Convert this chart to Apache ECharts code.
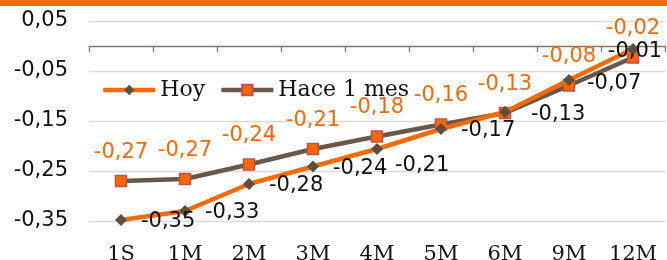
<!DOCTYPE html>
<html>
<head>
<meta charset="utf-8">
<script src="https://cdn.jsdelivr.net/npm/echarts@6/dist/echarts.min.js"></script>
<style>html,body{margin:0;padding:0;background:#fff;}#c{width:667px;height:260px;}</style>
</head>
<body>
<div id="c"></div>
<script>
const categories = ['1S','1M','2M','3M','4M','5M','6M','9M','12M'];
const hoy = [-0.348, -0.33, -0.276, -0.241, -0.206, -0.166, -0.132, -0.068, -0.006];
const haceUnMes = [-0.27, -0.266, -0.237, -0.206, -0.181, -0.157, -0.134, -0.079, -0.023];
const yTickValues = [-0.35, -0.25, -0.15, -0.05, 0.05];
const yTickLabels = ['-0,35', '-0,25', '-0,15', '-0,05', '0,05'];
const seriesNames = ['Hoy', 'Hace 1 mes'];

const ORANGE = '#F46A05';
const BROWN = '#675849';
const fmt = v => v.toFixed(2).replace('.', ',');

// label placement tweaks (style only)
const hoyLabelOffsets = {4: [-2, 17], 5: [0, 2], 6: [6, 3], 7: [-2, 4]};
const hoyData = hoy.map((v, i) => {
  const item = {value: v};
  if (i === 8) item.label = {position: 'inside', offset: [2, 3]};
  else if (hoyLabelOffsets[i]) item.label = {offset: hoyLabelOffsets[i]};
  return item;
});

const chart = echarts.init(document.getElementById('c'), null, {renderer: 'canvas'});
chart.setOption({
  animation: false,
  graphic: [{type: 'rect', shape: {x: 0, y: 0, width: 667, height: 6}, style: {fill: '#F46A00'}, silent: true}],
  grid: {left: 89, right: 2, top: 21, bottom: 39, containLabel: false, outerBoundsMode: 'none'},
  legend: {
    data: seriesNames, left: 101, top: 79, padding: 0, itemGap: 14,
    itemWidth: 52, itemHeight: 13,
    lineStyle: {width: 4.5},
    textStyle: {fontFamily: 'DejaVu Serif', fontSize: 22, color: '#111'}
  },
  xAxis: [
    {type: 'category', data: categories, position: 'top',
     axisLine: {show: true, onZero: true, lineStyle: {color: '#85786B', width: 1.3}},
     axisTick: {show: true, inside: true, length: 6, lineStyle: {color: '#85786B', width: 1.3}},
     axisLabel: {show: false}, splitLine: {show: false}},
    {type: 'category', data: categories, position: 'bottom',
     axisLine: {show: false, onZero: false}, axisTick: {show: false}, splitLine: {show: false},
     axisLabel: {fontFamily: 'DejaVu Serif', fontSize: 21, color: '#111', margin: 23}}
  ],
  yAxis: {
    type: 'value', min: -0.35, max: 0.05, interval: 0.05,
    axisLine: {show: false}, axisTick: {show: false},
    splitLine: {show: true, lineStyle: {color: ['#D9D9D9', 'rgba(0,0,0,0)'], width: 1.3}},
    axisLabel: {
      margin: 21, fontFamily: 'DejaVu Sans', fontSize: 21, color: '#111',
      formatter: v => { const k = yTickValues.findIndex(t => Math.abs(t - v) < 1e-9); return k >= 0 ? yTickLabels[k] : ''; }
    }
  },
  series: [
    {
      name: seriesNames[0], type: 'line', data: hoyData, z: 3,
      symbol: 'diamond', symbolSize: 12, showAllSymbol: true,
      lineStyle: {color: ORANGE, width: 4.5},
      itemStyle: {color: '#5C4E41'},
      label: {show: true, position: 'right', distance: 14, offset: [0, 2],
              fontFamily: 'DejaVu Sans', fontSize: 21, color: '#111',
              formatter: p => fmt(p.value)}
    },
    {
      name: seriesNames[1], type: 'line', data: haceUnMes, z: 2,
      symbol: 'rect', symbolSize: 11, showAllSymbol: true,
      lineStyle: {color: BROWN, width: 4.5},
      itemStyle: {color: '#FF6600', borderColor: '#C0504D', borderWidth: 1.5},
      label: {show: true, position: 'top', distance: 12,
              fontFamily: 'DejaVu Sans', fontSize: 21, color: '#F26A0A',
              formatter: p => fmt(p.value)}
    }
  ]
});
</script>
</body>
</html>
